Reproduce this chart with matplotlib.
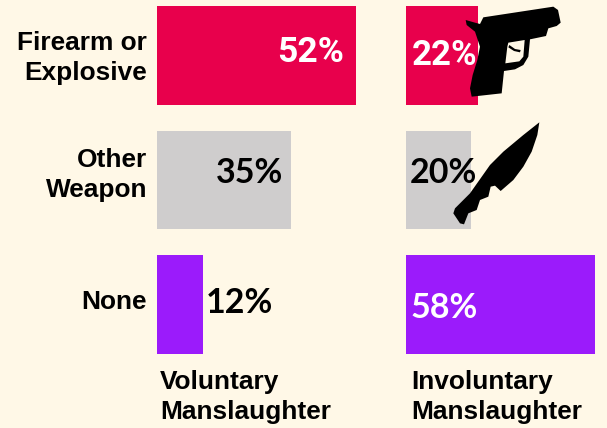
import matplotlib
matplotlib.use('Agg')
import matplotlib.pyplot as plt
from matplotlib.patches import Polygon

W, H = 607, 428
BG = '#FFF8E7'

categories = ['Firearm or\nExplosive', 'Other\nWeapon', 'None']
voluntary = [52, 35, 12]
involuntary = [22, 20, 58]
bar_colors = ['#E8004C', '#CFCDCD', '#9B1BFB']
group_labels = ['Voluntary\nManslaughter', 'Involuntary\nManslaughter']

fig = plt.figure(figsize=(W / 100, H / 100), dpi=100, facecolor=BG)


def make_ax(left, right, per_pct):
    # everything is in pixels from the top left of the picture
    ax = fig.add_axes([left / W, 1 - 366.75 / H, (right - left) / W, 366.75 / H])
    ax.set_xlim(0, (right - left) / per_pct)
    ax.set_ylim(2.5, -0.446)
    ax.axis('off')
    return ax


ax1 = make_ax(157, 400, 3.83)
ax2 = make_ax(406, 607, 3.25)
ax1.barh(range(3), voluntary, height=0.795, color=bar_colors)
ax2.barh(range(3), involuntary, height=0.795, color=bar_colors)


def px_text(x, y, s, **kw):
    return fig.text(x / W, 1 - y / H, s, **kw)


# category labels
cat_y = [58, 175, 302]
for i, c in enumerate(categories):
    px_text(147, cat_y[i], c, ha='right', va='center', family='Liberation Sans',
            weight='bold', fontsize=18.9, linespacing=1.27, color='black')

# group labels under the bars
px_text(160, 397, group_labels[0], ha='left', va='center', family='Liberation Sans',
        weight='bold', fontsize=18.9, linespacing=1.27, color='black')
px_text(411, 397, group_labels[1], ha='left', va='center', family='Liberation Sans',
        weight='bold', fontsize=18.9, linespacing=1.27, color='black')


# icons, in pixels
def shape(pts, ox, oy, color='black'):
    xy = [((ox + x / 3) / W, 1 - (oy + y / 3) / H) for x, y in pts]
    fig.add_artist(Polygon(xy, closed=True, transform=fig.transFigure, facecolor=color,
                           edgecolor='none', zorder=3))


gun = [(197, 60), (225, 68), (240, 72), (250, 52), (460, 20), (474, 30), (482, 68), (470, 78),
       (445, 85), (438, 108), (390, 118), (385, 170), (370, 195), (345, 208), (312, 213),
       (305, 280), (215, 290), (210, 265), (218, 225), (232, 180), (240, 140), (225, 95), (200, 75)]
gun_hole = [(325, 128), (374, 120), (370, 170), (358, 184), (316, 190), (322, 140)]
trigger = [(328, 135), (345, 147), (362, 150), (360, 157), (342, 153), (325, 142)]
knife = [(418, 22), (412, 60), (395, 110), (370, 155), (340, 195), (302, 228), (285, 212),
         (272, 215), (265, 245), (240, 255), (230, 285), (205, 295), (192, 328), (180, 325),
         (160, 295), (165, 280), (210, 235), (270, 150), (310, 110), (370, 60)]
shape(gun, 400, 0)
shape(gun_hole, 400, 0, BG)
shape(trigger, 400, 0)
shape(knife, 400, 115)

# percent labels
v_x = [277, 216, 206]
v_y = [52, 173, 303]
i_x = [412, 410, 411]
i_y = [55.5, 173, 308]
v_colors = ['white', 'black', 'black']
i_colors = ['white', 'black', 'white']
v_fonts = ['Roboto', 'Lato', 'Lato']
i_fonts = ['Roboto', 'Lato', 'Lato']
v_sizes = [25.5, 24.5, 24.5]
i_sizes = [25, 24.5, 24.5]
for i in range(3):
    px_text(v_x[i], v_y[i], f'{voluntary[i]}%', ha='left', va='center', family=v_fonts[i],
            weight='bold', fontsize=v_sizes[i], color=v_colors[i], zorder=5)
    px_text(i_x[i], i_y[i], f'{involuntary[i]}%', ha='left', va='center', family=i_fonts[i],
            weight='bold', fontsize=i_sizes[i], color=i_colors[i], zorder=5)

fig.savefig('out.png', dpi=100, facecolor=BG)
